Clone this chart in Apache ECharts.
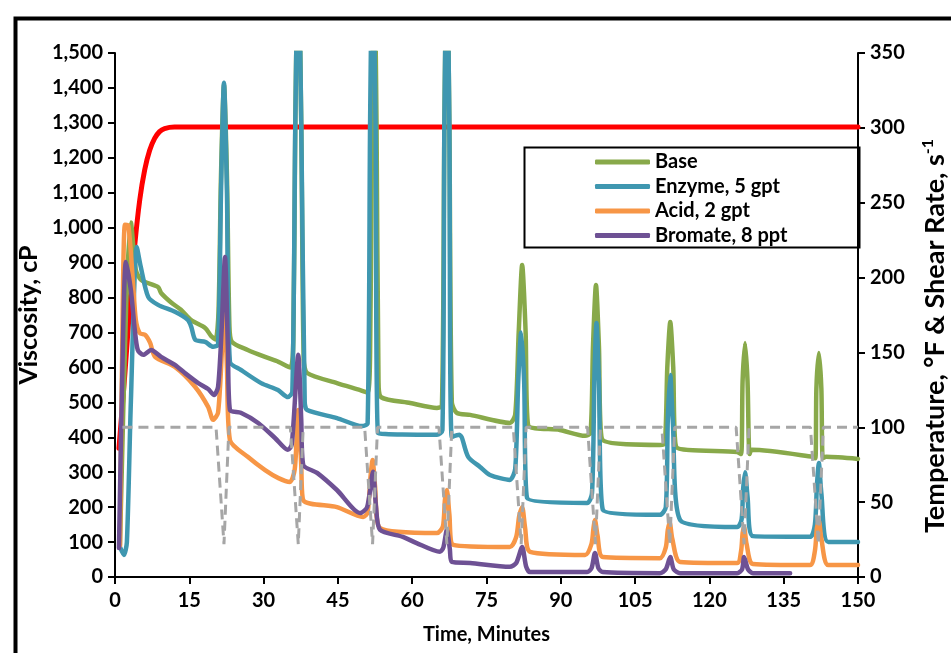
<!DOCTYPE html>
<html>
<head>
<meta charset="utf-8">
<script src="https://cdn.jsdelivr.net/npm/echarts@6/dist/echarts.min.js"></script>
<style>
html,body{margin:0;padding:0;background:#fff;}
#chart{width:951px;height:653px;}
</style>
</head>
<body>
<div id="chart"></div>
<script>
// ---- Data (time in minutes, value) ----
const xTicks = [0, 15, 30, 45, 60, 75, 90, 105, 120, 135, 150];
const seriesNames = ['Base', 'Enzyme, 5 gpt', 'Acid, 2 gpt', 'Bromate, 8 ppt'];

const baseData = [
[1.0,90],[2.3,800],[3.2,1015],[4.2,880],[5.3,850],[8.7,830],[9.3,813],[11.4,785],[13.3,765],[15.3,736],[18.2,713],[19.4,690],[20.3,680],[20.9,760],[21.4,1150],[22.0,1410],[22.6,1150],[23.1,720],[23.6,673],[26.8,650],[30.3,630],[33.0,616],[35.4,600],[36.0,680],[36.4,1300],[37.0,1800],[37.6,1300],[38.1,620],[38.8,584],[44.8,555],[49.5,535],[51.0,528],[51.5,640],[51.9,1300],[52.3,1800],[52.8,1300],[53.2,560],[53.7,515],[59.6,498],[65.0,484],[66.0,490],[66.5,1300],[67.0,1800],[67.5,1300],[68.0,500],[69.0,470],[71.7,464],[79.7,441],[80.8,465],[81.5,700],[82.2,893],[82.9,700],[83.4,435],[89.8,421],[94.9,404],[96.0,412],[96.5,660],[97.1,836],[97.7,660],[98.3,395],[110.0,378],[111.0,382],[111.5,600],[112.1,730],[112.7,600],[113.3,372],[125.6,358],[126.4,352],[126.7,560],[127.2,670],[127.7,560],[128.1,352],[128.6,364],[140.9,344],[141.4,340],[141.6,540],[142.1,641],[142.6,540],[142.9,340],[143.6,344],[150,338]
];
const enzymeData = [
[1.0,86],[1.8,63],[2.4,100],[3.2,500],[4.4,945],[5.2,888],[6.7,802],[8.7,779],[12.1,759],[14.7,736],[15.4,716],[16.2,679],[18.2,673],[19.8,659],[20.8,665],[21.4,1100],[22.0,1415],[22.6,1100],[23.2,616],[25.4,593],[29.5,555],[32.9,535],[34.9,515],[35.8,530],[36.4,1300],[37.0,1800],[37.6,1300],[38.3,500],[38.8,478],[44.8,455],[49.9,432],[51.0,440],[51.5,1300],[52.0,1800],[52.6,1300],[53.1,412],[65.0,407],[66.1,420],[66.5,1300],[67.0,1800],[67.5,1300],[68.0,401],[69.5,407],[70.0,400],[71.3,344],[73.7,315],[75.7,292],[79.7,278],[80.8,310],[81.4,560],[82.0,700],[82.6,560],[83.2,226],[95.3,212],[96.3,240],[96.8,580],[97.2,727],[97.7,560],[98.5,192],[110.0,178],[111.2,200],[111.6,450],[112.1,578],[112.6,450],[114.1,163],[125.6,143],[126.5,165],[126.8,250],[127.2,300],[127.7,230],[128.8,117],[140.3,115],[141.3,150],[141.7,260],[142.1,326],[142.6,240],[144.0,100],[150,100]
];
const acidData = [
[1.0,90],[1.5,700],[2.0,1008],[2.7,1005],[3.6,850],[4.2,736],[5.0,698],[6.1,693],[7.1,670],[8.1,630],[12.1,601],[16.2,544],[18.8,487],[19.8,450],[20.8,470],[21.6,650],[22.1,780],[22.6,600],[23.2,392],[26.8,344],[30.3,306],[33.0,283],[35.3,272],[36.3,310],[37.0,478],[37.6,320],[38.0,220],[44.8,200],[50.1,172],[51.0,185],[51.6,290],[52.0,335],[52.5,260],[53.5,140],[65.0,126],[66.2,145],[66.6,220],[67.0,249],[67.5,180],[68.3,92],[79.7,86],[81.0,115],[81.6,175],[82.2,200],[82.8,140],[83.8,72],[94.9,63],[96.2,95],[96.6,140],[96.9,163],[97.4,120],[98.5,57],[110.0,54],[111.2,85],[111.6,135],[112.0,155],[112.5,110],[114.1,43],[125.6,40],[126.4,75],[126.7,125],[127.0,143],[127.5,95],[128.8,37],[140.3,34],[141.3,75],[141.7,140],[142.1,160],[142.6,110],[144.0,34],[150,34]
];
const bromateData = [
[0.8,83],[1.5,600],[2.2,902],[3.2,822],[4.0,707],[4.6,650],[5.7,636],[7.3,650],[9.3,630],[12.1,607],[14.1,584],[16.8,555],[18.8,538],[20.0,521],[20.8,544],[21.5,700],[22.2,916],[22.8,650],[23.2,478],[25.4,470],[28.9,441],[32.3,398],[34.9,364],[35.7,380],[37.0,636],[37.6,450],[38.0,321],[40.8,298],[44.8,249],[49.5,183],[50.9,200],[52.1,301],[52.7,200],[53.5,135],[58.1,115],[60.9,97],[65.6,72],[66.3,85],[67.0,135],[67.6,80],[68.0,43],[71.7,40],[79.7,29],[81.0,40],[82.2,86],[83.0,30],[83.8,14],[95.3,14],[96.2,25],[96.9,69],[97.6,25],[98.5,14],[110.0,11],[111.2,22],[112.1,57],[112.8,22],[114.1,11],[125.6,11],[126.6,22],[127.0,57],[127.8,22],[128.8,11],[136.3,11]
];
const temperatureData = [
[0.8,86],[2,136],[3,182],[4,222],[5,252],[6,272],[7,285],[8,293],[9,297.5],[10,299.5],[12,300.5],[150,300.5]
];
const shearData = [
[1.5,100],[20.4,100],[22.0,22],[23.0,100],[35.4,100],[37.0,22],[38.0,100],[50.4,100],[52.0,22],[53.0,100],[65.4,100],[67.0,22],[68.0,100],[80.4,100],[82.0,22],[83.0,100],[95.4,100],[97.0,22],[98.0,100],[110.4,100],[112.0,22],[113.0,100],[125.4,100],[127.0,22],[128.0,100],[140.4,100],[142.0,22],[143.0,100],[150,100]
];

const colors = ['#88a94a', '#3f97b0', '#f79646', '#6e5194'];
const FONT = 'Lato, "Open Sans", sans-serif';

const chart = echarts.init(document.getElementById('chart'), null, {renderer: 'canvas'});

const lineSeries = (name, data, color, yIdx) => ({
  name, type: 'line', data, yAxisIndex: yIdx, showSymbol: false, symbol: 'none',
  lineStyle: {color, width: 4.5, cap: 'round', join: 'round'},
  itemStyle: {color},
  smooth: 0.25, animation: false, clip: true
});

const axisCommon = {
  axisLine: {show: true, lineStyle: {color: '#000', width: 2}},
  axisTick: {show: true, length: 7, lineStyle: {color: '#000', width: 2}},
  splitLine: {show: false},
  axisLabel: {color: '#000', fontFamily: FONT, fontWeight: 'bold', fontSize: 20},
  nameTextStyle: {color: '#000', fontFamily: FONT, fontWeight: 'bold', fontSize: 20}
};

const yNameStyle = {color: '#000', fontFamily: FONT, fontWeight: 'bold', fontSize: 25};

const option = {
  animation: false,
  backgroundColor: '#fff',
  grid: {left: 115, right: 93, top: 53, bottom: 76, containLabel: false, outerBoundsMode: 'none'},
  xAxis: Object.assign({}, axisCommon, {
    type: 'value', min: xTicks[0], max: xTicks[xTicks.length - 1], interval: 15,
    name: 'Time, Minutes', nameLocation: 'middle', nameGap: 48,
    axisLabel: Object.assign({}, axisCommon.axisLabel, {margin: 14})
  }),
  yAxis: [
    Object.assign({}, axisCommon, {
      type: 'value', min: 0, max: 1500, interval: 100, position: 'left',
      name: 'Viscosity, cP', nameLocation: 'middle', nameGap: 71, nameRotate: 90,
      nameTextStyle: yNameStyle,
      axisLabel: Object.assign({}, axisCommon.axisLabel, {margin: 12,
        formatter: v => v.toLocaleString('en-US')})
    }),
    Object.assign({}, axisCommon, {
      type: 'value', min: 0, max: 350, interval: 50, position: 'right',
      axisLabel: Object.assign({}, axisCommon.axisLabel, {margin: 12})
    })
  ],
  legend: {
    show: true, orient: 'vertical', left: 590, top: 147,
    data: seriesNames.map(n => ({name: n, icon: 'roundRect'})),
    itemWidth: 55, itemHeight: 5, itemGap: 4.5,
    textStyle: {color: '#000', fontFamily: FONT, fontWeight: 'bold', fontSize: 20, lineHeight: 20},
    selectedMode: false
  },
  graphic: [
    {type: 'rect', left: 522, top: 145, shape: {width: 335, height: 100}, style: {fill: 'none', stroke: '#000', lineWidth: 2}, z: 100},
    {type: 'rect', left: 13, top: 16, shape: {width: 980, height: 700}, style: {fill: 'none', stroke: '#000', lineWidth: 4}, z: 100},
    {type: 'text', x: 935, y: 336, rotation: Math.PI / 2, z: 100,
      style: {text: 'Temperature, °F & Shear Rate, s{sup|-1}', fill: '#000', fontFamily: FONT, fontWeight: 'bold', fontSize: 27,
        align: 'center', verticalAlign: 'middle',
        rich: {sup: {fontFamily: FONT, fontWeight: 'bold', fontSize: 16, fill: '#000', padding: [0, 0, 14, 0]}}}}
  ],
  series: [
    Object.assign(lineSeries('Temperature', temperatureData, '#ff0000', 1), {lineStyle: {color: '#ff0000', width: 5, cap: 'round'}, smooth: 0.3}),
    lineSeries(seriesNames[0], baseData, colors[0], 0),
    lineSeries(seriesNames[1], enzymeData, colors[1], 0),
    lineSeries(seriesNames[2], acidData, colors[2], 0),
    lineSeries(seriesNames[3], bromateData, colors[3], 0),
    Object.assign(lineSeries('Shear Rate', shearData, '#a6a6a6', 1), {lineStyle: {color: '#a6a6a6', width: 3, type: [10, 6]}, smooth: false})
  ]
};
chart.setOption(option);
</script>
</body>
</html>
